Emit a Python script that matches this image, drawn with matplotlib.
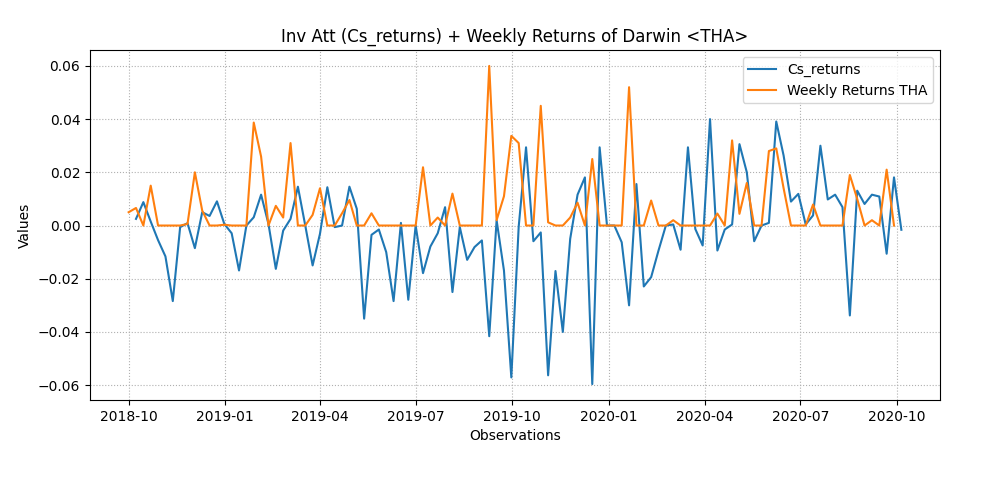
#!/usr/bin/env python3
import matplotlib
matplotlib.use("Agg")
import matplotlib.pyplot as plt
import numpy as np
import pandas as pd

# weekly returns of the darwin (orange), starting one week before the strategy series
tha_start = "2018-10-01"
tha_returns = [
    0.005, 0.0066, 0.0, 0.015, 0.0, 0.0, 0.0, 0.0, 0.0006, 0.020,
    0.0056, 0.0, 0.0, 0.0003, 0.0, 0.0, 0.0, 0.0387, 0.0259, 0.0,
    0.0074, 0.003, 0.031, 0.0, 0.0, 0.004, 0.014, 0.0, 0.0, 0.0046,
    0.0096, 0.0, 0.0, 0.0046, 0.0, 0.0, 0.0, 0.0, 0.0, 0.0,
    0.0219, 0.0, 0.003, 0.0, 0.012, 0.0, 0.0, 0.0, 0.0, 0.060,
    0.002, 0.011, 0.0337, 0.031, 0.0, 0.0, 0.045, 0.0012, 0.0, 0.0,
    0.003, 0.0086, 0.0, 0.025, 0.0, 0.0, 0.0, 0.0, 0.052, 0.0,
    0.0, 0.0094, 0.0, 0.0, 0.002, 0.0, 0.0, 0.0, 0.0, 0.0,
    0.0045, 0.0, 0.032, 0.0044, 0.016, 0.0, 0.0, 0.028, 0.029, 0.014,
    0.0, 0.0, 0.0, 0.0079, 0.0, 0.0, 0.0, 0.0, 0.019, 0.010,
    0.0, 0.002, 0.0, 0.021, 0.0,
]

# inverse attitude returns (blue)
cs_start = "2018-10-08"
cs_returns = [
    0.0025, 0.0088, 0.0015, -0.0055, -0.0116, -0.0284, -0.0006, 0.0009, -0.0085, 0.005,
    0.0036, 0.0091, 0.0006, -0.0029, -0.0169, 0.0, 0.0031, 0.0116, 0.0006, -0.0163,
    -0.0019, 0.0025, 0.0146, 0.0, -0.015, -0.0031, 0.0144, -0.0006, 0.0, 0.0146,
    0.0063, -0.035, -0.0035, -0.0015, -0.010, -0.0284, 0.001, -0.0279, 0.0, -0.0179,
    -0.0079, -0.0029, 0.0069, -0.025, -0.0006, -0.0129, -0.0081, -0.0056, -0.0416, 0.002,
    -0.0169, -0.0571, -0.0005, 0.0294, -0.0059, -0.0026, -0.0563, -0.0171, -0.040, -0.005,
    0.0116, 0.0181, -0.0596, 0.0294, 0.0, 0.0, -0.0063, -0.030, 0.0156, -0.0229,
    -0.0194, -0.0094, 0.0, 0.0004, -0.0091, 0.0294, -0.0013, -0.0075, 0.040, -0.0094,
    -0.0015, 0.0004, 0.0306, 0.020, -0.0059, 0.0, 0.001, 0.0391, 0.0263, 0.009,
    0.0119, 0.0004, 0.0038, 0.030, 0.0098, 0.0116, 0.0069, -0.0338, 0.0131, 0.0081,
    0.0116, 0.0109, -0.0106, 0.0181, -0.0016,
]


def main() -> None:
    tha = pd.Series(tha_returns,
                    index=pd.date_range(tha_start, periods=len(tha_returns), freq="W-MON"))
    cs = pd.Series(cs_returns,
                   index=pd.date_range(cs_start, periods=len(cs_returns), freq="W-MON"))

    fig, ax = plt.subplots(figsize=(10, 5), dpi=100)
    ax.plot(cs.index, cs.values, label="Cs_returns")
    ax.plot(tha.index, tha.values, label="Weekly Returns THA")

    ax.set_title("Inv Att (Cs_returns) + Weekly Returns of Darwin <THA>")
    ax.set_xlabel("Observations")
    ax.set_ylabel("Values")
    ax.grid(True, linestyle=":", color="#b0b0b0")
    ax.legend(loc="upper right")
    fig.subplots_adjust(left=0.09, right=0.94, bottom=0.2, top=0.9)
    fig.savefig("out.png", dpi=100)


if __name__ == "__main__":
    main()
